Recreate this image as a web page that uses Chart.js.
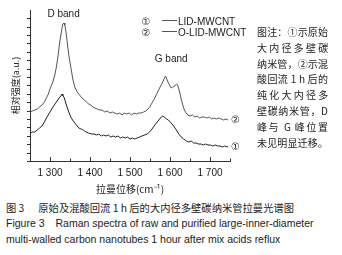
<!DOCTYPE html>
<html><head><meta charset="utf-8">
<script src="https://cdn.jsdelivr.net/npm/chart.js@4"></script>
<style>
html,body{margin:0;padding:0;background:#fff;}
body{width:342px;height:255px;position:relative;overflow:hidden;font-family:"Liberation Sans","Noto Sans CJK SC",sans-serif;color:#222;}
#wrap{position:absolute;left:0;top:0;width:342px;height:200px;}
.note{position:absolute;left:257px;top:24px;width:71px;font-family:"Noto Sans CJK SC",sans-serif;font-size:10px;line-height:15.8px;}
.note div{text-align:justify;text-align-last:justify;white-space:nowrap;}
.cap{position:absolute;left:6px;white-space:nowrap;}
</style></head><body>
<div id="wrap"><canvas id="c" width="342" height="200"></canvas></div>
<div class="note">
<div>图注：①示原始</div>
<div>大 内 径 多 壁 碳</div>
<div>纳米管，②示混</div>
<div>酸回流 1 h 后的</div>
<div>纯 化 大 内 径 多</div>
<div>壁碳纳米管，D</div>
<div>峰与 G 峰位置</div>
<div>未见明显迁移。</div>
</div>
<div class="cap" style="top:200px;font-family:'Noto Sans CJK SC',sans-serif;font-size:10.3px;">图 3<span style="display:inline-block;width:14px"></span>原始及混酸回流 1 h 后的大内径多壁碳纳米管拉曼光谱图</div>
<div class="cap" style="top:217px;font-size:10.5px;">Figure 3<span style="display:inline-block;width:11px"></span>Raman spectra of raw and purified large-inner-diameter</div>
<div class="cap" style="top:233px;font-size:10.5px;">multi-walled carbon nanotubes 1 hour after mix acids reflux</div>
<script>
// Raman shift (cm-1) and relative intensity (a.u.)
const shiftsO = [1250,1256,1262,1268,1274,1280,1286,1291,1296,1299,1303,1307,1312,1316,1320,1324,1328,1332,1335,1337,1340,1343,1347,1352,1357,1362,1368,1374,1380,1386,1391,1397,1402,1407,1412,1418,1424,1430,1437,1443,1450,1456,1462,1468,1474,1480,1486,1492,1498,1504,1510,1516,1522,1528,1534,1540,1545,1549,1555,1562,1568,1574,1578,1582,1586,1589,1592,1595,1599,1603,1607,1612,1616,1619,1622,1624,1628,1632,1636,1640,1645,1650,1656,1662,1668,1674,1680,1686,1692,1698,1704,1710,1716,1722,1728,1734,1740,1745];
const oLid =    [49,50,51,52,54,56,59,63,67,71,75,79,86,94,105,118,128,137,138,136,129,119,106,94,82,74,69,66,63,61,59,57,56,54,53,52,51,51,49,50,48,49,48,47,48,46,48,47,48,46,48,47,48,48,49,50,52,54,58,63,68,73,76,79,83,85,82,79,76,73,74,75,77,76,72,69,62,56,51,48,46,45,46,44,45,43,44,44,43,44,42,43,42,43,42,41,42,41];
const shiftsR = [1250,1256,1262,1268,1274,1280,1286,1291,1297,1303,1309,1316,1321,1327,1330,1332,1335,1338,1341,1346,1352,1358,1366,1372,1378,1383,1390,1396,1404,1410,1416,1422,1428,1434,1440,1446,1452,1458,1464,1470,1476,1482,1488,1494,1500,1506,1512,1518,1524,1530,1537,1543,1549,1555,1562,1568,1574,1578,1582,1586,1591,1596,1603,1609,1616,1622,1628,1634,1641,1647,1653,1659,1665,1671,1677,1683,1689,1695,1701,1707,1713,1719,1725,1731,1737,1745];
const lid =     [28,29,29,31,33,35,39,43,47,51,55,59,62,65,67,65,64,60,56,50,44,40,36,33,32,31,29,28,27,27,26,27,25,26,25,26,24,25,24,25,23,24,23,24,22,23,22,23,24,25,26,27,29,32,36,39,42,44,45,44,42,41,38,35,31,27,24,22,20,19,20,18,18,17,17,16,17,16,16,15,16,15,15,14,15,14];
const xTicks = [1300,1400,1500,1600,1700];
const seriesNames = ['LID-MWCNT','O-LID-MWCNT'];
const bandLabels = [{t:'D band',x:1334,y:147},{t:'G band',x:1603,y:102}];

const pts = (xs,ys)=>xs.map((x,i)=>({x:x,y:ys[i]}));

const deco = {
  id:'deco',
  afterDraw(chart){
    const ctx = chart.ctx, xs = chart.scales.x, ys = chart.scales.y;
    const base = chart.chartArea.bottom, left = chart.chartArea.left;
    ctx.save();
    ctx.strokeStyle='#333'; ctx.lineWidth=1;
    for(let v=1250; v<=1750; v+=50){
      const px = Math.round(xs.getPixelForValue(v))+0.5;
      const len = (v%100===0)?4:2.5;
      ctx.beginPath(); ctx.moveTo(px,base); ctx.lineTo(px,base-len); ctx.stroke();
    }
    ys.ticks.forEach(t=>{
      const py = Math.round(ys.getPixelForValue(t.value))+0.5;
      ctx.beginPath(); ctx.moveTo(left-3,py); ctx.lineTo(left,py); ctx.stroke();
    });
    ctx.fillStyle='#222';
    ctx.font='10px "Liberation Sans"';
    ctx.textAlign='center'; ctx.textBaseline='middle';
    bandLabels.forEach(b=>ctx.fillText(b.t, xs.getPixelForValue(b.x), ys.getPixelForValue(b.y)));
    // legend
    const rows=[{m:'\u2460',y:22},{m:'\u2461',y:33}];
    rows.forEach((r,i)=>{
      ctx.font='10px "DejaVu Sans"'; ctx.textAlign='center';
      ctx.fillText(r.m,146,r.y);
      ctx.strokeStyle='#555'; ctx.beginPath(); ctx.moveTo(162,r.y-1.5); ctx.lineTo(177,r.y-1.5); ctx.stroke();
      ctx.font='10px "Liberation Sans"'; ctx.textAlign='left';
      ctx.fillText(seriesNames[i],178,r.y);
    });
    // end markers
    ctx.font='10px "DejaVu Sans"'; ctx.textAlign='left';
    chart.data.datasets.forEach((ds,i)=>{
      const last = ds.data[ds.data.length-1];
      ctx.fillText(i===0?'\u2461':'\u2460', xs.getPixelForValue(last.x)+3, ys.getPixelForValue(last.y));
    });
    ctx.restore();
  }
};

new Chart(document.getElementById('c'),{
  type:'line',
  data:{datasets:[
    {label:seriesNames[1],data:pts(shiftsO,oLid),borderColor:'#555',borderWidth:1,pointRadius:0,tension:0,fill:false},
    {label:seriesNames[0],data:pts(shiftsR,lid),borderColor:'#222',borderWidth:1,pointRadius:0,tension:0,fill:false}
  ]},
  options:{
    responsive:false,animation:false,
    layout:{padding:{left:0,right:112,top:10,bottom:0}},
    plugins:{legend:{display:false},tooltip:{enabled:false}},
    scales:{
      x:{type:'linear',min:1250,max:1750,
        afterBuildTicks(s){s.ticks=xTicks.map(v=>({value:v}));},
        afterFit(s){s.height=39;},
        grid:{display:false,drawTicks:false},
        border:{display:true,color:'#333',width:1},
        ticks:{padding:6,color:'#222',font:{family:'Liberation Sans',size:10},maxRotation:0,
          callback:v=>String(v).replace(/^(\d)(\d{3})$/,'$1 $2')},
        title:{display:true,text:'拉曼位移(cm⁻¹)',color:'#222',font:{family:'Noto Sans CJK SC',size:10},padding:{top:5,bottom:5}}
      },
      y:{min:0,max:151,
        afterBuildTicks(s){const t=[];for(let v=0;v<=151;v+=8.4)t.push({value:v});s.ticks=t;},
        afterFit(s){s.width=30;},
        grid:{display:false,drawTicks:false},
        border:{display:true,color:'#333',width:1},
        ticks:{display:false},
        title:{display:true,text:'相对强度(a.u.)',color:'#222',font:{family:'Noto Sans CJK SC',size:9},padding:{top:10,bottom:0}}
      }
    }
  },
  plugins:[deco]
});
</script>
</body></html>
